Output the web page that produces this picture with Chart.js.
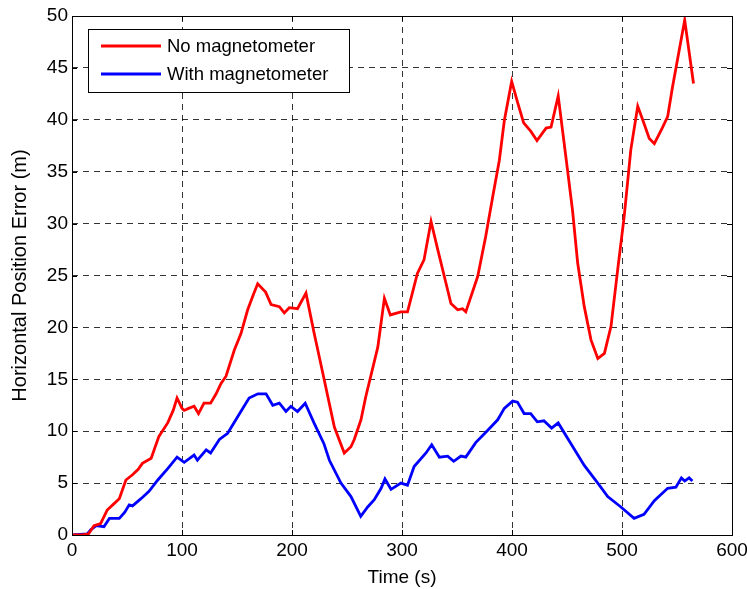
<!DOCTYPE html>
<html>
<head>
<meta charset="utf-8">
<script src="https://cdn.jsdelivr.net/npm/chart.js@4/dist/chart.umd.min.js"></script>
<style>
  html, body { margin: 0; padding: 0; background: #fff; }
  #wrap { width: 747px; height: 589px; }
</style>
</head>
<body>
<div id="wrap"><canvas id="chart" width="747" height="589"></canvas></div>
<script>
// series
const seriesLabels = ['No magnetometer', 'With magnetometer'];

const tNoMag = [0, 5, 10, 15, 20, 26, 32, 38, 43, 49, 55, 60, 64, 72, 79, 87, 92, 95.5, 100, 102, 106, 111, 115, 120, 126, 131, 135.5, 140, 147.5, 153.6, 159.7, 165, 168.8, 176, 181, 188.5, 193, 197.5, 205, 212.7, 220, 229, 238.5, 247.5, 253.6, 256.6, 262.7, 267, 278, 284, 289.4, 299, 305, 314, 320, 326.4, 332.5, 338.5, 344.5, 350.6, 355, 358, 368.8, 376, 382.5, 388.5, 393, 399.7, 405, 410.6, 417, 422.7, 431, 435.5, 442, 449, 455, 459.7, 465.7, 471.8, 478, 484, 490, 496, 502, 508, 514.3, 518.8, 524.8, 529.4, 537, 541.5, 546, 552, 557, 565];
const errNoMag = [0, 0, 0, 0.1, 0.9, 1.1, 2.4, 3.0, 3.5, 5.3, 5.8, 6.3, 6.9, 7.4, 9.5, 10.8, 12.0, 13.2, 12.2, 12.0, 12.2, 12.4, 11.7, 12.7, 12.7, 13.6, 14.6, 15.3, 17.8, 19.4, 21.7, 23.2, 24.2, 23.4, 22.2, 22.0, 21.4, 21.9, 21.8, 23.3, 19.5, 15.1, 10.4, 7.9, 8.5, 9.2, 11.1, 13.3, 18.1, 22.8, 21.2, 21.5, 21.5, 25.2, 26.5, 30.2, 27.5, 24.9, 22.3, 21.7, 21.8, 21.5, 24.9, 28.7, 32.6, 36.1, 39.9, 43.7, 41.7, 39.7, 38.9, 38.0, 39.2, 39.3, 42.3, 36.4, 31.3, 26.2, 22.0, 18.8, 17.0, 17.5, 20.1, 25.5, 30.7, 37.1, 41.3, 40.0, 38.2, 37.7, 39.3, 40.3, 43.2, 46.7, 49.6, 43.5];

const tWithMag = [0, 14, 17, 22, 29, 34, 43, 48, 52, 55, 62.7, 70, 78, 87, 95.5, 102, 111, 114, 122, 126, 134, 141.5, 150.6, 161, 169, 176.4, 182.5, 188.5, 194.5, 199, 205, 212, 220, 229, 234, 244.5, 253.6, 262.5, 268.8, 274.8, 281, 284.5, 290, 299, 305, 311, 321.8, 327, 334, 341.5, 347, 353.6, 358, 367, 378, 387, 393, 400.6, 405, 411, 417, 423, 429, 436, 442, 453.6, 465.7, 478, 487, 499, 511, 520, 529.4, 541.5, 549, 554, 557, 561, 564];
const errWithMag = [0, 0.1, 0.5, 0.9, 0.8, 1.6, 1.6, 2.2, 2.9, 2.8, 3.5, 4.2, 5.3, 6.4, 7.5, 7.0, 7.7, 7.2, 8.2, 7.9, 9.2, 9.8, 11.4, 13.2, 13.6, 13.6, 12.5, 12.7, 11.9, 12.4, 11.9, 12.7, 10.8, 8.8, 7.2, 5.0, 3.7, 1.8, 2.7, 3.4, 4.5, 5.4, 4.4, 5.0, 4.8, 6.6, 7.9, 8.7, 7.5, 7.6, 7.1, 7.6, 7.5, 8.9, 10.1, 11.1, 12.2, 12.9, 12.8, 11.7, 11.7, 10.9, 11.0, 10.3, 10.8, 8.8, 6.7, 5.0, 3.7, 2.7, 1.6, 2.0, 3.3, 4.5, 4.6, 5.5, 5.2, 5.5, 5.2];

const xTicks = [0, 100, 200, 300, 400, 500, 600];
const yTicks = [0, 5, 10, 15, 20, 25, 30, 35, 40, 45, 50];

const toPoints = (xs, ys) => xs.map((x, i) => ({ x, y: ys[i] }));

// matlab style box with inward ticks + legend box
const frameAndLegend = {
  id: 'frameAndLegend',
  afterDraw(chart) {
    const { ctx, chartArea: a, scales } = chart;
    ctx.save();
    ctx.strokeStyle = '#000';
    ctx.lineWidth = 1;
    ctx.setLineDash([]);
    ctx.strokeRect(a.left + 0.5, a.top + 0.5, a.right - a.left, a.bottom - a.top);

    const tl = 5;
    ctx.beginPath();
    xTicks.forEach(v => {
      const px = Math.round(scales.x.getPixelForValue(v)) + 0.5;
      ctx.moveTo(px, a.bottom); ctx.lineTo(px, a.bottom - tl);
      ctx.moveTo(px, a.top); ctx.lineTo(px, a.top + tl);
    });
    yTicks.forEach(v => {
      const py = Math.round(scales.y.getPixelForValue(v)) + 0.5;
      ctx.moveTo(a.left, py); ctx.lineTo(a.left + tl, py);
      ctx.moveTo(a.right, py); ctx.lineTo(a.right - tl, py);
    });
    ctx.stroke();

    // legend
    const bx = 88.5, by = 29.5, bw = 261, bh = 63;
    ctx.fillStyle = '#fff';
    ctx.fillRect(bx, by, bw, bh);
    ctx.strokeRect(bx, by, bw, bh);
    ctx.font = '18.5px "Liberation Sans", Arial, sans-serif';
    ctx.textBaseline = 'middle';
    chart.data.datasets.forEach((ds, i) => {
      const y = 46 + i * 28;
      ctx.strokeStyle = ds.borderColor;
      ctx.lineWidth = 2.8;
      ctx.beginPath();
      ctx.moveTo(101, y); ctx.lineTo(161, y);
      ctx.stroke();
      ctx.fillStyle = '#000';
      ctx.fillText(ds.label, 167, y + 1);
    });
    ctx.restore();
  }
};

const tickFont = { family: '"Liberation Sans", Arial, sans-serif', size: 19 };
const titleFont = { family: '"Liberation Sans", Arial, sans-serif', size: 19 };

new Chart(document.getElementById('chart'), {
  type: 'line',
  data: {
    datasets: [
      {
        label: seriesLabels[0],
        data: toPoints(tNoMag, errNoMag),
        borderColor: '#ff0000',
        borderWidth: 2.8,
        pointRadius: 0,
        tension: 0
      },
      {
        label: seriesLabels[1],
        data: toPoints(tWithMag, errWithMag),
        borderColor: '#0000ff',
        borderWidth: 2.8,
        pointRadius: 0,
        tension: 0
      }
    ]
  },
  options: {
    responsive: false,
    animation: false,
    layout: { padding: { left: 0, top: 16, right: 15, bottom: 0 } },
    plugins: {
      legend: { display: false },
      tooltip: { enabled: false }
    },
    scales: {
      x: {
        type: 'linear',
        min: 0,
        max: 600,
        afterBuildTicks: s => { s.ticks = xTicks.map(v => ({ value: v })); },
        afterFit: s => { s.height = 54; s.paddingLeft = 0; s.paddingRight = 0; },
        ticks: { color: '#000', font: tickFont, padding: 4, maxRotation: 0 },
        grid: { color: '#000', lineWidth: 0.8, drawTicks: false },
        border: { display: false, dash: [6, 5] },
        title: { display: true, text: 'Time (s)', color: '#000', font: titleFont, padding: { top: 0, bottom: 0 } }
      },
      y: {
        min: 0,
        max: 50,
        afterBuildTicks: s => { s.ticks = yTicks.map(v => ({ value: v })); },
        afterFit: s => { s.width = 72; s.paddingTop = 0; s.paddingBottom = 0; },
        ticks: { color: '#000', font: tickFont, padding: 4 },
        grid: { color: '#000', lineWidth: 0.8, drawTicks: false },
        border: { display: false, dash: [6, 5] },
        title: { display: true, text: 'Horizontal Position Error (m)', color: '#000', font: { family: titleFont.family, size: 20 }, padding: { top: 8, bottom: 0 } }
      }
    }
  },
  plugins: [frameAndLegend]
});
</script>
</body>
</html>
